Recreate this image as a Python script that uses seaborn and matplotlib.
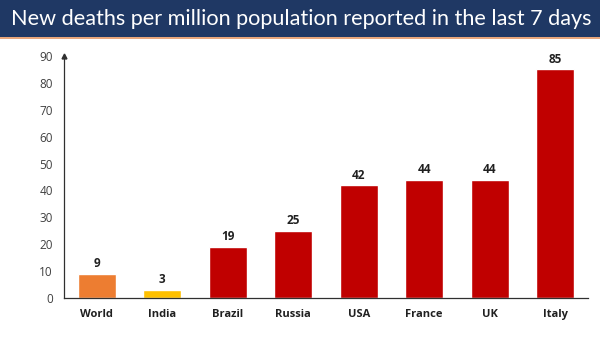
import matplotlib
matplotlib.use("Agg")
import matplotlib.pyplot as plt
import seaborn as sns
import pandas as pd
import numpy as np
from matplotlib.patches import Rectangle

regions = ["World", "India", "Brazil", "Russia", "USA", "France", "UK", "Italy"]
deaths_per_million = [9, 3, 19, 25, 42, 44, 44, 85]
bar_colors = ["#ED7D31", "#FFC000", "#C00000", "#C00000", "#C00000", "#C00000", "#C00000", "#C00000"]
y_ticks = [0, 10, 20, 30, 40, 50, 60, 70, 80, 90]
title = "New deaths per million population reported in the last 7 days"

sns.set_theme(style="white")
plt.rcParams["font.family"] = ["Open Sans", "DejaVu Sans"]

df = pd.DataFrame({"region": regions, "value": deaths_per_million})

fig = plt.figure(figsize=(6, 3.38), dpi=100)
fig.patch.set_facecolor("white")

# title banner
fig.patches.append(Rectangle((0, 1 - 37 / 338), 1, 37 / 338, transform=fig.transFigure,
                             facecolor="#1F3864", edgecolor="none", zorder=0))
fig.patches.append(Rectangle((0, 1 - 39 / 338), 1, 2 / 338, transform=fig.transFigure,
                             facecolor="#E9A77C", edgecolor="none", zorder=0))
fig.text(0.502, 1 - 19 / 338, title, color="white", fontsize=15.6, va="center", ha="center",
         family=["Lato", "DejaVu Sans"])

ax = fig.add_axes([64 / 600, 1 - 298 / 338, 524 / 600, 242 / 338])
sns.barplot(data=df, x="region", y="value", hue="region", palette=bar_colors,
            width=0.58, legend=False, ax=ax, saturation=1)

ax.set_ylim(0, 90)
ax.set_xlim(-0.5, len(regions) - 0.5)
ax.set_yticks(y_ticks)
ax.set_yticklabels([str(t) for t in y_ticks], fontsize=8.5, color="#404040")
ax.tick_params(axis="y", length=0, pad=8)
ax.set_xticks(range(len(regions)))
ax.set_xticklabels(regions, fontsize=8, fontweight="bold", color="#202020")
ax.tick_params(axis="x", which="major", length=0, pad=8)
ax.set_xticks(np.arange(-0.5, len(regions), 1), minor=True)
ax.tick_params(axis="x", which="minor", length=3, width=0.8, color="#404040", direction="out")
ax.set_xlabel("")
ax.set_ylabel("")

for s in ["top", "right"]:
    ax.spines[s].set_visible(False)
for s in ["left", "bottom"]:
    ax.spines[s].set_color("#303030")
    ax.spines[s].set_linewidth(0.9)

# arrow head at the top of the value axis
ax.plot([0], [1], marker="^", markersize=3.5, color="#303030", transform=ax.transAxes,
        clip_on=False)

for i, v in enumerate(deaths_per_million):
    ax.text(i, v + 1.3, str(v), ha="center", va="bottom", fontsize=8.5, fontweight="bold",
            color="#202020")

fig.savefig("out.png", dpi=100)
